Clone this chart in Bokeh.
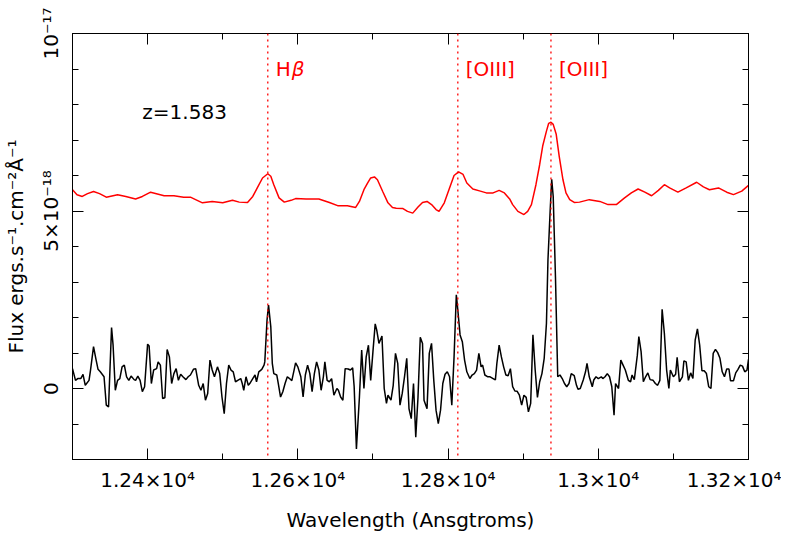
from bokeh.plotting import figure
from bokeh.models import FixedTicker, LinearAxis, Span, Range1d, Label, CustomLabelingPolicy
from bokeh.core.properties import value
from bokeh.embed import file_html
from bokeh.resources import INLINE

FONT = "DejaVu Sans"

# observed spectrum (wavelength in Angstrom, flux in 1e-18 erg/s/cm2/A)
wave_obs = [12300, 12304, 12307, 12311, 12314, 12317, 12322, 12324, 12328, 12331, 12334, 12337, 12342, 12345, 12348,
            12352, 12354, 12357, 12360, 12363, 12366, 12369, 12372, 12375, 12378, 12382, 12384, 12387, 12390, 12393,
            12396, 12400, 12402, 12405, 12408, 12412, 12414, 12417, 12420, 12423, 12426, 12429, 12432, 12435, 12438,
            12441, 12444, 12447, 12451, 12454, 12457, 12461, 12464, 12468, 12471, 12474, 12477, 12480, 12483, 12486,
            12489, 12493, 12496, 12499, 12502, 12505, 12508, 12511, 12514, 12517, 12520, 12524, 12526, 12528, 12531,
            12534, 12536, 12540, 12543, 12545, 12548, 12552, 12555, 12556, 12559, 12561, 12564, 12566, 12568, 12572,
            12574, 12577, 12580, 12583, 12586, 12589, 12592, 12595, 12597, 12600, 12604, 12607, 12610, 12613, 12616,
            12619, 12622, 12625, 12628, 12631, 12634, 12636, 12639, 12642, 12645, 12648, 12652, 12654, 12657, 12660,
            12663, 12667, 12670, 12673, 12675, 12678, 12682, 12685, 12688, 12691, 12694, 12697, 12700, 12703, 12705,
            12708, 12712, 12715, 12718, 12720, 12724, 12727, 12730, 12733, 12736, 12739, 12742, 12745, 12748, 12751,
            12754, 12757, 12760, 12763, 12766, 12768, 12772, 12775, 12778, 12781, 12784, 12787, 12790, 12793, 12796,
            12799, 12802, 12805, 12808, 12811, 12813, 12816, 12819, 12822, 12825, 12829, 12832, 12835, 12838, 12841,
            12844, 12846, 12849, 12853, 12856, 12860, 12863, 12865, 12868, 12871, 12874, 12877, 12880, 12883, 12886,
            12889, 12892, 12895, 12898, 12901, 12904, 12907, 12910, 12913, 12916, 12919, 12922, 12925, 12928, 12931,
            12933, 12936, 12938, 12940, 12943, 12945, 12946, 12949, 12952, 12955, 12958, 12961, 12964, 12968, 12971,
            12973, 12976, 12980, 12983, 12985, 12988, 12992, 12994, 12997, 13000, 13004, 13006, 13009, 13012, 13015,
            13018, 13021, 13023, 13027, 13030, 13033, 13036, 13040, 13043, 13045, 13048, 13052, 13054, 13057, 13060,
            13063, 13066, 13069, 13073, 13076, 13079, 13082, 13085, 13088, 13091, 13094, 13096, 13100, 13103, 13105,
            13108, 13112, 13114, 13117, 13120, 13123, 13126, 13129, 13132, 13135, 13138, 13141, 13144, 13147, 13150,
            13153, 13156, 13159, 13162, 13165, 13168, 13171, 13174, 13176, 13180, 13183, 13186, 13189, 13192, 13195,
            13198, 13200]
flux_obs = [0.56, 0.23, 0.28, 0.28, 0.40, 0.09, 0.23, 0.52, 1.18, 0.85, 0.54, 0.47, 0.33, -0.47, -0.52,
            1.72, 1.23, -0.05, 0.23, 0.28, 0.61, 0.66, 0.33, 0.23, 0.35, 0.25, 0.23, 0.35, 0.23, -0.09,
            0.05, 1.25, 1.20, 0.14, 0.52, 0.56, 0.75, 0.66, -0.28, -0.26, 1.10, 0.89, 0.14, 0.42, 0.56,
            0.23, 0.40, 0.33, 0.25, 0.33, 0.38, 0.54, 0.56, 0.09, -0.05, 0.14, -0.33, -0.14, 0.80, 0.52,
            0.33, 0.61, 0.42, -0.24, -0.71, 0.14, 0.66, 0.52, 0.47, 0.19, 0.23, 0.28, 0.14, -0.05, 0.33,
            0.09, 0.14, 0.28, 0.38, 0.19, 0.47, 0.54, 0.66, 0.75, 1.93, 2.35, 1.74, 0.71, 0.42, 0.38,
            0.14, -0.24, -0.09, 0.14, 0.33, 0.28, 0.22, 0.52, 0.72, 0.61, 0.33, -0.24, 0.38, 0.66, 0.42,
            -0.09, 0.42, 0.75, 0.52, -0.05, 0.33, 0.75, 0.23, 0.19, 0.28, -0.19, 0.0, -0.05, -0.24, -0.33,
            0.56, 0.55, 0.52, 0.58, 0.05, -1.70, -0.24, 1.08, 0.0, 0.89, 1.22, 0.23, 1.04, 1.82, 1.65,
            1.27, 1.48, 0.0, -0.42, -0.19, -0.33, 0.09, 0.99, 0.71, -0.47, -0.14, 0.33, 0.85, -0.57, -0.85,
            0.14, -1.37, -0.24, 1.44, 1.27, -0.33, -0.57, 0.99, 1.27, 0.23, -0.61, -0.99, -0.61, 0.14, 0.40,
            0.47, 0.33, -0.47, 0.89, 2.64, 2.21, 1.51, 1.32, 0.80, 0.47, 0.28, 0.38, 0.42, 0.52, 0.99,
            0.61, 0.66, 0.38, 0.33, 0.33, 0.28, 0.24, 0.71, 1.22, 0.89, 0.61, 0.38, 0.36, 0.56, 0.05,
            -0.07, -0.08, -0.19, -0.47, -0.19, -0.25, -0.66, -0.42, 1.51, 0.52, -0.25, 0.19, 0.42, 0.85, 1.84,
            3.62, 5.04, 5.89, 5.41, 3.15, 1.27, 0.33, 0.38, 0.28, 0.14, 0.05, 0.14, 0.42, 0.36, 0.09,
            -0.02, 0.0, 0.24, 0.47, 0.71, 0.33, 0.05, 0.24, 0.33, 0.28, 0.33, 0.28, 0.33, 0.42, 0.33,
            0.05, -0.75, 0.14, 0.0, 0.80, 0.66, 0.52, 0.23, 0.19, 0.38, 0.25, 0.94, 1.46, 1.04, 0.19,
            0.33, 0.44, 0.25, 0.23, 0.14, 0.09, 0.23, 2.23, 1.55, 0.52, 0.0, 0.52, 0.33, 0.40, 0.88,
            0.19, 0.33, 0.78, 0.75, 0.23, 0.44, 0.28, 1.36, 1.68, 1.22, 0.50, 0.50, 0.42, 0.05, 0.0,
            0.99, 1.10, 1.01, 0.85, 0.47, 0.33, 0.55, 0.55, 0.22, 0.22, 0.44, 0.54, 0.66, 0.63, 0.47,
            0.52, 0.82]

# smoothed spectrum (offset), same units
wave_smooth = [12300, 12306, 12313, 12320, 12328, 12336, 12345, 12360, 12371, 12384, 12393, 12404, 12413, 12422,
               12435, 12448, 12457, 12466, 12473, 12486, 12500, 12513, 12522, 12533, 12540, 12546, 12553, 12560,
               12564, 12568, 12575, 12582, 12591, 12597, 12611, 12628, 12642, 12653, 12666, 12677, 12682, 12688,
               12693, 12697, 12702, 12706, 12713, 12720, 12726, 12731, 12740, 12746, 12753, 12760, 12766, 12772,
               12778, 12784, 12788, 12795, 12802, 12808, 12814, 12820, 12825, 12833, 12843, 12851, 12860, 12868,
               12875, 12882, 12886, 12893, 12901, 12906, 12911, 12917, 12922, 12926, 12931, 12934, 12937, 12940,
               12944, 12948, 12953, 12957, 12962, 12968, 12975, 12988, 13002, 13013, 13024, 13035, 13044, 13053,
               13062, 13071, 13080, 13088, 13095, 13106, 13117, 13131, 13140, 13148, 13160, 13171, 13180, 13191,
               13200]
flux_smooth = [5.60, 5.46, 5.41, 5.49, 5.55, 5.49, 5.39, 5.46, 5.41, 5.34, 5.41, 5.53, 5.48, 5.43,
               5.43, 5.39, 5.39, 5.30, 5.23, 5.27, 5.23, 5.30, 5.25, 5.24, 5.41, 5.65, 5.93, 6.05,
               5.98, 5.74, 5.37, 5.25, 5.30, 5.35, 5.34, 5.34, 5.24, 5.15, 5.15, 5.10, 5.27, 5.60,
               5.79, 5.93, 5.96, 5.88, 5.55, 5.23, 5.10, 5.08, 5.07, 4.99, 4.94, 5.11, 5.24, 5.27,
               5.18, 5.04, 4.99, 5.23, 5.65, 6.00, 6.10, 6.03, 5.79, 5.62, 5.56, 5.51, 5.51, 5.58,
               5.51, 5.34, 5.18, 4.99, 4.90, 4.99, 5.18, 5.74, 6.31, 6.83, 7.25, 7.47, 7.50, 7.44,
               7.16, 6.54, 5.88, 5.51, 5.32, 5.24, 5.25, 5.32, 5.27, 5.18, 5.18, 5.37, 5.51, 5.62,
               5.53, 5.43, 5.58, 5.74, 5.65, 5.53, 5.65, 5.81, 5.68, 5.60, 5.65, 5.53, 5.46, 5.56,
               5.72]

line_waves = [12560, 12813, 12937]
line_names = ["H", "[OIII]", "[OIII]"]
greek_suffix = "β"          # italic suffix of the first label (Hβ)
label_level = [9.0, 9.0, 9.0]
redshift_text = "z=1.583"
redshift_pos = (12393, 7.8)

x_major = [12400, 12600, 12800, 13000, 13200]
x_major_labels = ["1.24×10⁴", "1.26×10⁴", "1.28×10⁴", "1.3×10⁴", "1.32×10⁴"]
x_minor = [12300, 12500, 12700, 12900, 13100]
y_major = [0, 5, 10]
y_major_labels = ["0", "5×10⁻¹⁸", "10⁻¹⁷"]
y_minor = [-2, -1, 1, 2, 3, 4, 6, 7, 8, 9]

p = figure(frame_width=676, frame_height=426,
           x_range=Range1d(12300, 13200), y_range=Range1d(-2, 10),
           output_backend="svg", toolbar_location=None,
           min_border_left=64, min_border_right=33, min_border_top=33, min_border_bottom=70,
           x_axis_label="Wavelength (Ansgtroms)",
           y_axis_label="Flux ergs.s⁻¹.cm⁻²Å⁻¹")
p.grid.visible = False
p.outline_line_color = "black"
p.outline_line_width = 1
p.background_fill_color = "white"
p.border_fill_color = "white"


def style_axis(ax, ticks, minor, labels, show):
    ax.ticker = FixedTicker(ticks=ticks, minor_ticks=minor)
    ax.major_tick_in = 11
    ax.major_tick_out = 0
    ax.minor_tick_in = 6
    ax.minor_tick_out = 0
    ax.axis_line_color = "black"
    ax.major_tick_line_color = "black"
    ax.minor_tick_line_color = "black"
    ax.major_label_text_font = FONT
    ax.major_label_text_color = "black"
    ax.axis_label_text_font = FONT
    ax.axis_label_text_font_style = "normal"
    ax.axis_label_text_font_size = "20px"
    ax.axis_label_text_color = "black"
    if show:
        ax.major_label_text_font_size = "20px"
        ax.major_label_overrides = dict(zip(ticks, labels))
    else:
        # mirrored axis: ticks only, no labels drawn
        ax.major_label_text_font_size = "2px"
        ax.major_label_standoff = 0
        ax.major_label_policy = CustomLabelingPolicy(code="return new Set()")


style_axis(p.xaxis[0], x_major, x_minor, x_major_labels, True)
p.xaxis[0].major_label_standoff = 8
p.xaxis[0].axis_label_standoff = 13
style_axis(p.yaxis[0], y_major, y_minor, y_major_labels, True)
p.yaxis[0].major_label_orientation = "vertical"
p.yaxis[0].major_label_standoff = 10
p.yaxis[0].axis_label_standoff = 8

top = LinearAxis()
style_axis(top, x_major, x_minor, x_major_labels, False)
p.add_layout(top, "above")
right = LinearAxis()
style_axis(right, y_major, y_minor, y_major_labels, False)
p.add_layout(right, "right")

for w in line_waves:
    p.add_layout(Span(location=w, dimension="height", line_color="red",
                      line_dash="2 4", line_width=1.3))

p.line(wave_smooth, flux_smooth, line_color="red", line_width=1.5)
p.line(wave_obs, flux_obs, line_color="black", line_width=1.5)

p.text(x=line_waves, y=label_level, text=line_names, text_color="red",
       text_font=value(FONT), text_font_size="20px", text_baseline="middle",
       x_offset=8)
p.add_layout(Label(x=line_waves[0], y=label_level[0], text=greek_suffix,
                   x_offset=24, text_font=FONT, text_font_size="20px",
                   text_font_style="italic", text_color="red",
                   text_baseline="middle"))
p.add_layout(Label(x=redshift_pos[0], y=redshift_pos[1], text=redshift_text,
                   text_font=FONT, text_font_size="20px", text_color="black",
                   text_baseline="middle"))

open("out.html", "w").write(file_html(p, INLINE))
